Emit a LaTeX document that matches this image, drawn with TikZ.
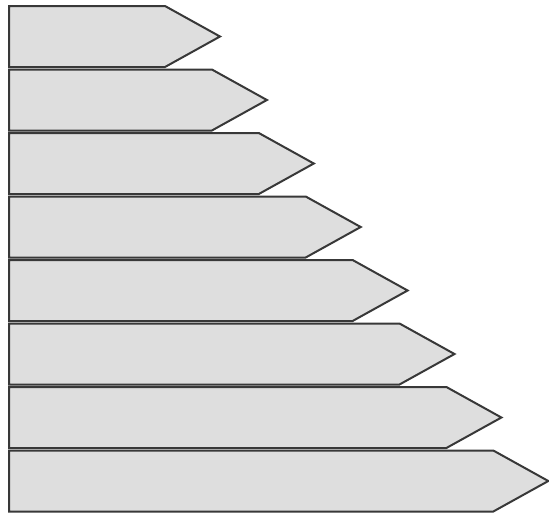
\documentclass[tikz,border=0pt]{standalone}
\begin{document}
\begin{tikzpicture}[x=1pt,y=-1pt,
  arrowshape/.style={fill=black!13,draw=black!78,line width=2pt,line join=miter}]
\useasboundingbox (0,0) rectangle (549,515);
\foreach \i in {0,...,7}{
  \pgfmathsetmacro{\t}{6+63.5*\i}
  \pgfmathsetmacro{\b}{\t+61}
  \pgfmathsetmacro{\m}{\t+30.5}
  \pgfmathsetmacro{\s}{165+46.9*\i}
  \pgfmathsetmacro{\p}{\s+55}
  \draw[arrowshape] (9,\t) -- (\s,\t) -- (\p,\m) -- (\s,\b) -- (9,\b) -- cycle;
}
\end{tikzpicture}
\end{document}
